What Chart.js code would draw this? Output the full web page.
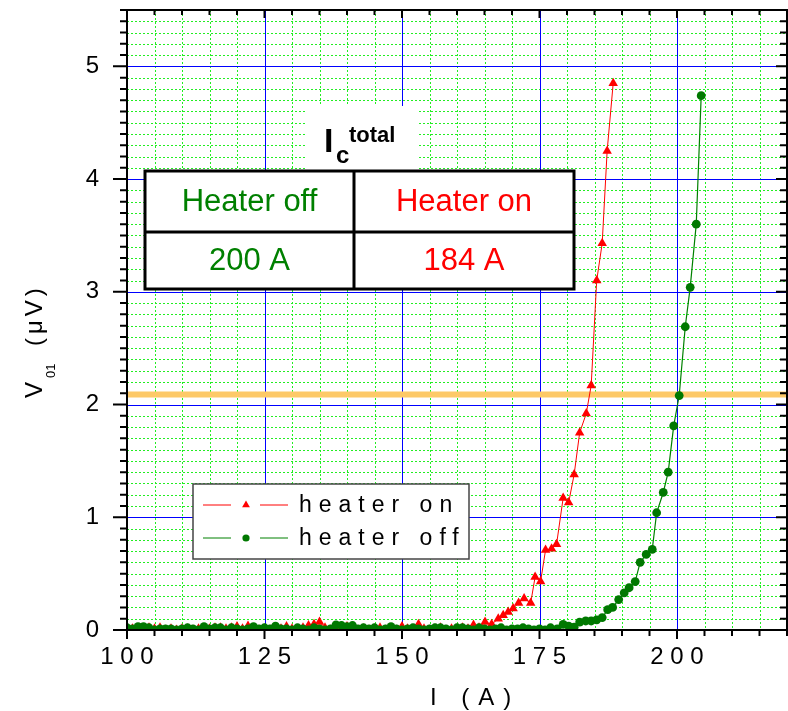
<!DOCTYPE html>
<html>
<head>
<meta charset="utf-8">
<script src="https://cdn.jsdelivr.net/npm/chart.js@4.4.1/dist/chart.umd.min.js"></script>
<style>
  html, body { margin: 0; padding: 0; background: #fff; }
</style>
</head>
<body>
<canvas id="grafica" width="788" height="711"></canvas>
<script>
Chart.defaults.font.family = "'Liberation Sans', Arial, sans-serif";
Chart.defaults.color = "#000";

// heater on: corrent (A) i tensio V01 (uV)
const onI = [101, 102, 103, 104, 105, 106, 107, 108, 109, 110, 111, 112, 113, 114, 115, 116,
  117, 118, 119, 120, 121, 122, 123, 124, 125, 126, 127, 128, 129, 130, 131, 132, 133, 134,
  135, 136, 137, 138, 139, 140, 141, 142, 143, 144, 145, 146, 147, 148, 149, 150, 151, 152,
  153, 154, 155, 156, 157, 158, 159, 160, 161, 162, 163, 164,
  165.1, 166.3, 167.5, 168.4, 169.3, 170.2, 171.2, 172.2, 173.4, 174.2, 175.2, 176.1, 177.2,
  178.1, 179.3, 180.3, 181.3, 182.3, 183.5, 184.4, 185.4, 186.4, 187.3, 188.4];
const onV = [0.01, 0.00, 0.01, 0.02, 0.01, 0.02, 0.00, 0.01, 0.00, 0.01, 0.01, 0.00, 0.01, 0.00,
  0.01, 0.02, 0.02, 0.01, 0.02, 0.03, 0.01, 0.035, 0.01, 0.00, 0.01, 0.00, 0.01, 0.01, 0.03,
  0.01, 0.00, 0.02, 0.04, 0.05, 0.07, 0.02, 0.00, 0.02, 0.01, 0.03, 0.01, 0.00, 0.01, 0.00,
  0.01, 0.02, 0.00, 0.01, 0.00, 0.03, 0.01, 0.00, 0.05, 0.01, 0.00, 0.01, 0.02, 0.00, 0.01,
  0.01, 0.02, 0.01, 0.045, 0.02,
  0.07, 0.05, 0.10, 0.13, 0.16, 0.19, 0.24, 0.28, 0.24, 0.47, 0.43, 0.71, 0.72,
  0.76, 1.17, 1.13, 1.38, 1.75, 1.92, 2.17, 3.10, 3.43, 4.25, 4.85];

// heater off
const offI = [100, 101, 102, 103, 104, 105, 106, 107, 108, 109, 110, 111, 112, 113, 114, 115,
  116, 117, 118, 119, 120, 121, 122, 123, 124, 125, 126, 127, 128, 129, 130, 131, 132, 133,
  134, 135, 136, 137, 138, 139, 140, 141, 142, 143, 144, 145, 146, 147, 148, 149, 150, 151,
  152, 153, 154, 155, 156, 157, 158, 159, 160, 161, 162, 163, 164, 165, 166, 167, 168, 169,
  170, 171, 172, 173, 174, 175, 176, 177, 178.2,
  179.3, 180.3, 181.3, 182.3, 183.4, 184.4, 185.4, 186.4, 187.4, 188.3, 189.4, 190.4, 191.3,
  192.4, 193.3, 194.4, 195.5, 196.3, 197.5, 198.4, 199.4, 200.4, 201.5, 202.4, 203.5, 204.4];
const offV = [0.02, 0.01, 0.03, 0.03, 0.02, 0.00, 0.01, 0.01, 0.01, 0.00, 0.01, 0.02, 0.01,
  0.00, 0.03, 0.01, 0.02, 0.02, 0.00, 0.02, 0.01, 0.00, 0.01, 0.03, 0.01, 0.02, 0.01, 0.035,
  0.01, 0.01, 0.00, 0.02, 0.01, 0.00, 0.02, 0.01, 0.00, 0.01, 0.045, 0.04, 0.03, 0.04, 0.01,
  0.02, 0.01, 0.02, 0.00, 0.01, 0.03, 0.01, 0.00, 0.01, 0.02, 0.01, 0.00, 0.01, 0.02, 0.02,
  0.01, 0.00, 0.02, 0.02, 0.01, 0.00, 0.02, 0.01, 0.00, 0.01, 0.02, 0.00, 0.01, 0.01, 0.02,
  0.01, 0.00, 0.01, 0.00, 0.02, 0.01,
  0.05, 0.035, 0.025, 0.07, 0.08, 0.08, 0.09, 0.11, 0.18, 0.20, 0.27, 0.33, 0.375,
  0.43, 0.60, 0.67, 0.715, 1.04, 1.22, 1.40, 1.81, 2.08, 2.69, 3.04, 3.60, 4.74];

// criteri de tensio per a Ic
const nivell = 2.09;

const xTicks = [100, 125, 150, 175, 200];
const yTicks = [0, 1, 2, 3, 4, 5];

const taulaCap = ["Heater off", "Heater on"];
const taulaIc = [200, 184];
const taulaColor = ["#008000", "#ff0000"];

const ROIG = "#ff0000";
const VERD = "#008000";

function punts(xs, ys) {
  return xs.map((v, i) => ({ x: v, y: ys[i] }));
}

// graella, requadre i marques dels eixos
const marc = {
  id: "marc",
  beforeDatasetsDraw(chart) {
    const { ctx, chartArea: a, scales: { x, y } } = chart;
    ctx.save();
    ctx.lineWidth = 1;
    ctx.strokeStyle = "#22ee22";
    ctx.setLineDash([2, 2]);
    ctx.beginPath();
    for (let v = 105; v < 220; v += 5) {
      if (v % 25 === 0) continue;
      const px = Math.round(x.getPixelForValue(v)) + 0.5;
      ctx.moveTo(px, a.top); ctx.lineTo(px, a.bottom);
    }
    for (let i = 1; i < 55; i++) {
      if (i % 10 === 0) continue;
      const py = Math.round(y.getPixelForValue(i / 10)) + 0.5;
      ctx.moveTo(a.left, py); ctx.lineTo(a.right, py);
    }
    ctx.stroke();
    ctx.setLineDash([]);
    ctx.strokeStyle = "#0000ff";
    ctx.beginPath();
    xTicks.slice(1).forEach(v => {
      const px = Math.round(x.getPixelForValue(v)) + 0.5;
      ctx.moveTo(px, a.top); ctx.lineTo(px, a.bottom);
    });
    yTicks.slice(1).forEach(v => {
      const py = Math.round(y.getPixelForValue(v)) + 0.5;
      ctx.moveTo(a.left, py); ctx.lineTo(a.right, py);
    });
    ctx.stroke();
    ctx.restore();
  },
  afterDatasetsDraw(chart) {
    const { ctx, chartArea: a, scales: { x, y } } = chart;
    ctx.save();
    ctx.strokeStyle = "#000";
    ctx.lineWidth = 2;
    ctx.strokeRect(a.left, a.top, a.right - a.left, a.bottom - a.top);
    ctx.beginPath();
    for (let v = 100; v <= 220; v += 5) {
      const px = x.getPixelForValue(v);
      const major = v % 25 === 0;
      ctx.moveTo(px, a.bottom); ctx.lineTo(px, a.bottom + (major ? 9 : 6));
      ctx.moveTo(px, a.top); ctx.lineTo(px, a.top + (major ? 8 : 5));
    }
    for (let i = 0; i <= 55; i++) {
      const py = y.getPixelForValue(i / 10);
      const major = i % 10 === 0;
      ctx.moveTo(a.left - (major ? 14 : 7), py); ctx.lineTo(a.left, py);
      ctx.moveTo(a.right - (major ? 11 : 7), py); ctx.lineTo(a.right, py);
    }
    ctx.stroke();
    ctx.restore();
  }
};

// titols dels eixos, llegenda i taula de Ic
const anotacions = {
  id: "anotacions",
  afterDraw(chart) {
    const ctx = chart.ctx;
    const ds = chart.data.datasets;
    ctx.save();

    // eix x
    ctx.fillStyle = "#000";
    ctx.textBaseline = "alphabetic";
    ctx.font = "24px 'Liberation Sans', Arial, sans-serif";
    ctx.letterSpacing = "9px";
    ctx.fillText("I (A)", 430, 705);

    // eix y (girat)
    ctx.save();
    ctx.translate(42, 398);
    ctx.rotate(-Math.PI / 2);
    ctx.letterSpacing = "0px";
    ctx.fillText("V", 0, 0);
    ctx.font = "13px 'Liberation Sans', Arial, sans-serif";
    ctx.fillText("01", 20, 13);
    ctx.font = "24px 'Liberation Sans', Arial, sans-serif";
    ctx.letterSpacing = "4px";
    ctx.fillText("(\u03bcV)", 52, 0);
    ctx.restore();

    // llegenda
    ctx.fillStyle = "#fff";
    ctx.fillRect(193, 484, 276, 75);
    ctx.strokeStyle = "#444";
    ctx.lineWidth = 1.5;
    ctx.strokeRect(193, 484, 276, 75);
    const files = [
      { d: ds[1], y: 505, text: "heater on" },
      { d: ds[0], y: 538, text: "heater off" }
    ];
    files.forEach(f => {
      ctx.strokeStyle = f.d.borderColor;
      ctx.fillStyle = f.d.pointBackgroundColor;
      ctx.lineWidth = 1;
      ctx.beginPath();
      ctx.moveTo(203, f.y); ctx.lineTo(231, f.y);
      ctx.moveTo(260, f.y); ctx.lineTo(288, f.y);
      ctx.stroke();
      Chart.helpers.drawPoint(ctx, {
        pointStyle: f.d.pointStyle, radius: f.d.pointStyle === "triangle" ? 4.5 : 3.6,
        rotation: 0, borderWidth: 0
      }, 246, f.y);
      ctx.fillStyle = "#000";
      ctx.font = "23px 'Liberation Sans', Arial, sans-serif";
      ctx.letterSpacing = "7px";
      ctx.textBaseline = "middle";
      ctx.fillText(f.text, 299, f.y + 1);
    });

    // rotul Ic total
    ctx.letterSpacing = "0px";
    ctx.textBaseline = "alphabetic";
    ctx.fillStyle = "#fff";
    ctx.fillRect(305, 106, 114, 64);
    ctx.fillStyle = "#000";
    ctx.font = "bold 34px 'Liberation Sans', Arial, sans-serif";
    ctx.fillText("I", 324, 152);
    ctx.font = "bold 24px 'Liberation Sans', Arial, sans-serif";
    ctx.fillText("c", 336, 163);
    ctx.font = "bold 22px 'Liberation Sans', Arial, sans-serif";
    ctx.fillText("total", 349, 142);

    // taula
    const tx = [145, 354, 574];
    const ty = [171, 232, 289];
    ctx.fillStyle = "#fff";
    ctx.fillRect(tx[0], ty[0], tx[2] - tx[0], ty[2] - ty[0]);
    ctx.strokeStyle = "#000";
    ctx.lineWidth = 3;
    ctx.strokeRect(tx[0], ty[0], tx[2] - tx[0], ty[2] - ty[0]);
    ctx.beginPath();
    ctx.moveTo(tx[0], ty[1]); ctx.lineTo(tx[2], ty[1]);
    ctx.moveTo(tx[1], ty[0]); ctx.lineTo(tx[1], ty[2]);
    ctx.stroke();
    ctx.font = "31px 'Liberation Sans', Arial, sans-serif";
    ctx.textAlign = "center";
    ctx.textBaseline = "middle";
    for (let c = 0; c < 2; c++) {
      const cx = (tx[c] + tx[c + 1]) / 2;
      ctx.fillStyle = taulaColor[c];
      ctx.fillText(taulaCap[c], cx, (ty[0] + ty[1]) / 2 + 1);
      ctx.fillText(taulaIc[c] + " A", cx, (ty[1] + ty[2]) / 2 + 1);
    }
    ctx.restore();
  }
};

const data = {
  datasets: [
    {
      label: "heater off",
      data: punts(offI, offV),
      borderColor: VERD,
      borderWidth: 1.2,
      pointStyle: "circle",
      pointRadius: 4.4,
      pointBorderWidth: 0,
      pointBackgroundColor: "#007800",
      clip: 0
    },
    {
      label: "heater on",
      data: punts(onI, onV),
      borderColor: ROIG,
      borderWidth: 1,
      pointStyle: "triangle",
      pointRadius: 5.5,
      pointBorderWidth: 0,
      pointBackgroundColor: ROIG,
      clip: 0
    },
    {
      label: "nivell",
      data: [{ x: 100, y: nivell }, { x: 220, y: nivell }],
      borderColor: "rgb(253, 201, 104)",
      borderWidth: 6,
      pointRadius: 0,
      clip: 0
    }
  ]
};

const config = {
  type: "line",
  data: data,
  plugins: [marc, anotacions],
  options: {
    responsive: false,
    animation: false,
    layout: { autoPadding: false, padding: { left: 0, right: 1, top: 10, bottom: 0 } },
    plugins: { legend: { display: false }, tooltip: { enabled: false } },
    scales: {
      x: {
        type: "linear",
        min: 100,
        max: 220,
        afterBuildTicks: s => { s.ticks = xTicks.map(v => ({ value: v })); },
        afterFit: s => { s.height = 81; s.paddingLeft = 0; s.paddingRight = 0; },
        grid: { display: false, drawTicks: false },
        border: { display: false },
        ticks: {
          font: { size: 24 },
          padding: 13,
          maxRotation: 0,
          autoSkip: false,
          callback: v => String(v).split("").join(" ")
        }
      },
      y: {
        min: 0,
        max: 5.5,
        afterBuildTicks: s => { s.ticks = yTicks.map(v => ({ value: v })); },
        afterFit: s => { s.width = 127; s.paddingTop = 0; s.paddingBottom = 0; },
        grid: { display: false, drawTicks: false },
        border: { display: false },
        ticks: { font: { size: 24 }, padding: 28 }
      }
    }
  }
};

const grafica = document.getElementById("grafica");
let myChart = new Chart(grafica, config);
</script>
</body>
</html>
